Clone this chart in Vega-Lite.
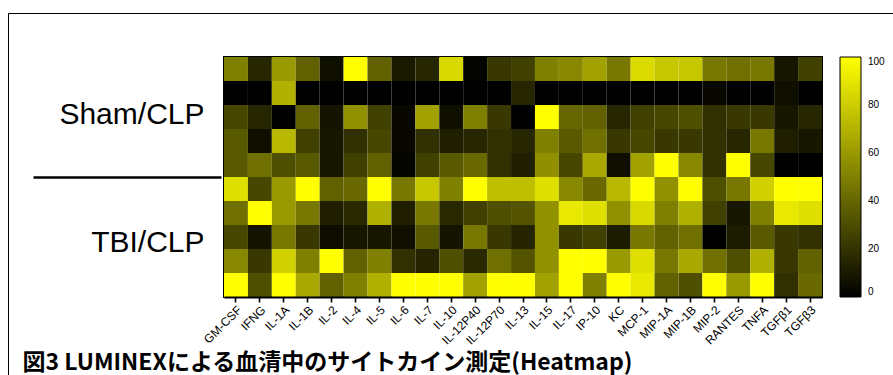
{
  "$schema": "https://vega.github.io/schema/vega-lite/v6.json",
  "width": 598,
  "height": 240,
  "autosize": {"type": "none"},
  "padding": {"left": 224, "top": 57, "right": 71, "bottom": 78},
  "background": "white",
  "config": {"view": {"stroke": "black", "strokeWidth": 2}, "font": "Liberation Sans"},
  "datasets": {
    "cells": [
      {"r":1,"c":"GM-CSF","v":50},{"r":1,"c":"IFNG","v":15},{"r":1,"c":"IL-1A","v":60},{"r":1,"c":"IL-1B","v":38},{"r":1,"c":"IL-2","v":6},{"r":1,"c":"IL-4","v":100},{"r":1,"c":"IL-5","v":38},{"r":1,"c":"IL-6","v":10},{"r":1,"c":"IL-7","v":15},{"r":1,"c":"IL-10","v":85},{"r":1,"c":"IL-12P40","v":2},{"r":1,"c":"IL-12P70","v":22},{"r":1,"c":"IL-13","v":25},{"r":1,"c":"IL-15","v":50},{"r":1,"c":"IL-17","v":53},{"r":1,"c":"IP-10","v":63},{"r":1,"c":"KC","v":47},{"r":1,"c":"MCP-1","v":86},{"r":1,"c":"MIP-1A","v":78},{"r":1,"c":"MIP-1B","v":78},{"r":1,"c":"MIP-2","v":47},{"r":1,"c":"RANTES","v":44},{"r":1,"c":"TNFA","v":47},{"r":1,"c":"TGFβ1","v":9},{"r":1,"c":"TGFβ3","v":25},
      {"r":2,"c":"GM-CSF","v":0},{"r":2,"c":"IFNG","v":0},{"r":2,"c":"IL-1A","v":69},{"r":2,"c":"IL-1B","v":0},{"r":2,"c":"IL-2","v":0},{"r":2,"c":"IL-4","v":0},{"r":2,"c":"IL-5","v":0},{"r":2,"c":"IL-6","v":0},{"r":2,"c":"IL-7","v":0},{"r":2,"c":"IL-10","v":0},{"r":2,"c":"IL-12P40","v":0},{"r":2,"c":"IL-12P70","v":0},{"r":2,"c":"IL-13","v":15},{"r":2,"c":"IL-15","v":0},{"r":2,"c":"IL-17","v":0},{"r":2,"c":"IP-10","v":0},{"r":2,"c":"KC","v":0},{"r":2,"c":"MCP-1","v":0},{"r":2,"c":"MIP-1A","v":0},{"r":2,"c":"MIP-1B","v":0},{"r":2,"c":"MIP-2","v":3},{"r":2,"c":"RANTES","v":0},{"r":2,"c":"TNFA","v":0},{"r":2,"c":"TGFβ1","v":6},{"r":2,"c":"TGFβ3","v":0},
      {"r":3,"c":"GM-CSF","v":28},{"r":3,"c":"IFNG","v":15},{"r":3,"c":"IL-1A","v":0},{"r":3,"c":"IL-1B","v":38},{"r":3,"c":"IL-2","v":8},{"r":3,"c":"IL-4","v":57},{"r":3,"c":"IL-5","v":25},{"r":3,"c":"IL-6","v":3},{"r":3,"c":"IL-7","v":63},{"r":3,"c":"IL-10","v":6},{"r":3,"c":"IL-12P40","v":50},{"r":3,"c":"IL-12P70","v":22},{"r":3,"c":"IL-13","v":0},{"r":3,"c":"IL-15","v":100},{"r":3,"c":"IL-17","v":40},{"r":3,"c":"IP-10","v":38},{"r":3,"c":"KC","v":15},{"r":3,"c":"MCP-1","v":25},{"r":3,"c":"MIP-1A","v":28},{"r":3,"c":"MIP-1B","v":31},{"r":3,"c":"MIP-2","v":19},{"r":3,"c":"RANTES","v":22},{"r":3,"c":"TNFA","v":22},{"r":3,"c":"TGFβ1","v":9},{"r":3,"c":"TGFβ3","v":15},
      {"r":4,"c":"GM-CSF","v":35},{"r":4,"c":"IFNG","v":6},{"r":4,"c":"IL-1A","v":72},{"r":4,"c":"IL-1B","v":25},{"r":4,"c":"IL-2","v":9},{"r":4,"c":"IL-4","v":19},{"r":4,"c":"IL-5","v":28},{"r":4,"c":"IL-6","v":3},{"r":4,"c":"IL-7","v":19},{"r":4,"c":"IL-10","v":12},{"r":4,"c":"IL-12P40","v":15},{"r":4,"c":"IL-12P70","v":19},{"r":4,"c":"IL-13","v":15},{"r":4,"c":"IL-15","v":50},{"r":4,"c":"IL-17","v":35},{"r":4,"c":"IP-10","v":44},{"r":4,"c":"KC","v":22},{"r":4,"c":"MCP-1","v":28},{"r":4,"c":"MIP-1A","v":22},{"r":4,"c":"MIP-1B","v":22},{"r":4,"c":"MIP-2","v":19},{"r":4,"c":"RANTES","v":15},{"r":4,"c":"TNFA","v":47},{"r":4,"c":"TGFβ1","v":12},{"r":4,"c":"TGFβ3","v":9},
      {"r":5,"c":"GM-CSF","v":35},{"r":5,"c":"IFNG","v":44},{"r":5,"c":"IL-1A","v":31},{"r":5,"c":"IL-1B","v":35},{"r":5,"c":"IL-2","v":9},{"r":5,"c":"IL-4","v":25},{"r":5,"c":"IL-5","v":38},{"r":5,"c":"IL-6","v":2},{"r":5,"c":"IL-7","v":25},{"r":5,"c":"IL-10","v":35},{"r":5,"c":"IL-12P40","v":41},{"r":5,"c":"IL-12P70","v":19},{"r":5,"c":"IL-13","v":12},{"r":5,"c":"IL-15","v":56},{"r":5,"c":"IL-17","v":28},{"r":5,"c":"IP-10","v":66},{"r":5,"c":"KC","v":6},{"r":5,"c":"MCP-1","v":63},{"r":5,"c":"MIP-1A","v":100},{"r":5,"c":"MIP-1B","v":53},{"r":5,"c":"MIP-2","v":19},{"r":5,"c":"RANTES","v":100},{"r":5,"c":"TNFA","v":28},{"r":5,"c":"TGFβ1","v":0},{"r":5,"c":"TGFβ3","v":0},
      {"r":6,"c":"GM-CSF","v":88},{"r":6,"c":"IFNG","v":28},{"r":6,"c":"IL-1A","v":60},{"r":6,"c":"IL-1B","v":100},{"r":6,"c":"IL-2","v":38},{"r":6,"c":"IL-4","v":41},{"r":6,"c":"IL-5","v":100},{"r":6,"c":"IL-6","v":47},{"r":6,"c":"IL-7","v":78},{"r":6,"c":"IL-10","v":50},{"r":6,"c":"IL-12P40","v":100},{"r":6,"c":"IL-12P70","v":75},{"r":6,"c":"IL-13","v":75},{"r":6,"c":"IL-15","v":88},{"r":6,"c":"IL-17","v":53},{"r":6,"c":"IP-10","v":41},{"r":6,"c":"KC","v":72},{"r":6,"c":"MCP-1","v":100},{"r":6,"c":"MIP-1A","v":57},{"r":6,"c":"MIP-1B","v":100},{"r":6,"c":"MIP-2","v":31},{"r":6,"c":"RANTES","v":47},{"r":6,"c":"TNFA","v":82},{"r":6,"c":"TGFβ1","v":100},{"r":6,"c":"TGFβ3","v":100},
      {"r":7,"c":"GM-CSF","v":44},{"r":7,"c":"IFNG","v":100},{"r":7,"c":"IL-1A","v":60},{"r":7,"c":"IL-1B","v":47},{"r":7,"c":"IL-2","v":12},{"r":7,"c":"IL-4","v":16},{"r":7,"c":"IL-5","v":69},{"r":7,"c":"IL-6","v":12},{"r":7,"c":"IL-7","v":47},{"r":7,"c":"IL-10","v":16},{"r":7,"c":"IL-12P40","v":25},{"r":7,"c":"IL-12P70","v":31},{"r":7,"c":"IL-13","v":33},{"r":7,"c":"IL-15","v":57},{"r":7,"c":"IL-17","v":91},{"r":7,"c":"IP-10","v":88},{"r":7,"c":"KC","v":57},{"r":7,"c":"MCP-1","v":85},{"r":7,"c":"MIP-1A","v":50},{"r":7,"c":"MIP-1B","v":69},{"r":7,"c":"MIP-2","v":25},{"r":7,"c":"RANTES","v":9},{"r":7,"c":"TNFA","v":50},{"r":7,"c":"TGFβ1","v":91},{"r":7,"c":"TGFβ3","v":88},
      {"r":8,"c":"GM-CSF","v":28},{"r":8,"c":"IFNG","v":8},{"r":8,"c":"IL-1A","v":47},{"r":8,"c":"IL-1B","v":22},{"r":8,"c":"IL-2","v":5},{"r":8,"c":"IL-4","v":9},{"r":8,"c":"IL-5","v":9},{"r":8,"c":"IL-6","v":6},{"r":8,"c":"IL-7","v":35},{"r":8,"c":"IL-10","v":8},{"r":8,"c":"IL-12P40","v":47},{"r":8,"c":"IL-12P70","v":22},{"r":8,"c":"IL-13","v":14},{"r":8,"c":"IL-15","v":57},{"r":8,"c":"IL-17","v":22},{"r":8,"c":"IP-10","v":25},{"r":8,"c":"KC","v":11},{"r":8,"c":"MCP-1","v":47},{"r":8,"c":"MIP-1A","v":38},{"r":8,"c":"MIP-1B","v":44},{"r":8,"c":"MIP-2","v":0},{"r":8,"c":"RANTES","v":11},{"r":8,"c":"TNFA","v":35},{"r":8,"c":"TGFβ1","v":22},{"r":8,"c":"TGFβ3","v":19},
      {"r":9,"c":"GM-CSF","v":53},{"r":9,"c":"IFNG","v":22},{"r":9,"c":"IL-1A","v":82},{"r":9,"c":"IL-1B","v":50},{"r":9,"c":"IL-2","v":100},{"r":9,"c":"IL-4","v":38},{"r":9,"c":"IL-5","v":50},{"r":9,"c":"IL-6","v":19},{"r":9,"c":"IL-7","v":14},{"r":9,"c":"IL-10","v":31},{"r":9,"c":"IL-12P40","v":16},{"r":9,"c":"IL-12P70","v":44},{"r":9,"c":"IL-13","v":33},{"r":9,"c":"IL-15","v":57},{"r":9,"c":"IL-17","v":100},{"r":9,"c":"IP-10","v":100},{"r":9,"c":"KC","v":60},{"r":9,"c":"MCP-1","v":88},{"r":9,"c":"MIP-1A","v":47},{"r":9,"c":"MIP-1B","v":66},{"r":9,"c":"MIP-2","v":44},{"r":9,"c":"RANTES","v":31},{"r":9,"c":"TNFA","v":69},{"r":9,"c":"TGFβ1","v":22},{"r":9,"c":"TGFβ3","v":38},
      {"r":10,"c":"GM-CSF","v":100},{"r":10,"c":"IFNG","v":31},{"r":10,"c":"IL-1A","v":100},{"r":10,"c":"IL-1B","v":66},{"r":10,"c":"IL-2","v":38},{"r":10,"c":"IL-4","v":50},{"r":10,"c":"IL-5","v":69},{"r":10,"c":"IL-6","v":100},{"r":10,"c":"IL-7","v":100},{"r":10,"c":"IL-10","v":100},{"r":10,"c":"IL-12P40","v":63},{"r":10,"c":"IL-12P70","v":100},{"r":10,"c":"IL-13","v":100},{"r":10,"c":"IL-15","v":63},{"r":10,"c":"IL-17","v":100},{"r":10,"c":"IP-10","v":50},{"r":10,"c":"KC","v":100},{"r":10,"c":"MCP-1","v":91},{"r":10,"c":"MIP-1A","v":38},{"r":10,"c":"MIP-1B","v":31},{"r":10,"c":"MIP-2","v":100},{"r":10,"c":"RANTES","v":60},{"r":10,"c":"TNFA","v":100},{"r":10,"c":"TGFβ1","v":19},{"r":10,"c":"TGFβ3","v":41}
    ],
    "groups": [{"grp": "Sham/CLP"}, {"grp": "TBI/CLP"}]
  },
  "layer": [
    {
      "data": {"name": "cells"},
      "mark": {"type": "rect"},
      "encoding": {
        "x": {"field": "c", "type": "nominal",
          "sort": ["GM-CSF","IFNG","IL-1A","IL-1B","IL-2","IL-4","IL-5","IL-6","IL-7","IL-10","IL-12P40","IL-12P70","IL-13","IL-15","IL-17","IP-10","KC","MCP-1","MIP-1A","MIP-1B","MIP-2","RANTES","TNFA","TGFβ1","TGFβ3"],
          "scale": {"paddingInner": 0, "paddingOuter": 0},
          "axis": {"title": "図3 LUMINEXによる血清中のサイトカイン測定(Heatmap)", "titleX": -202, "titleY": 72, "titleAlign": "left", "titleAnchor": "start", "titleBaseline": "alphabetic", "titleAngle": 0, "titleFont": "Noto Sans CJK JP", "titleFontSize": 23, "titleFontWeight": "bold", "titleColor": "black",
            "labelAngle": -45, "labelFontSize": 12, "labelColor": "black", "tickColor": "black", "tickSize": 5, "tickWidth": 1.6, "domainColor": "black", "domainWidth": 2, "labelPadding": 2}},
        "y": {"field": "r", "type": "ordinal", "scale": {"paddingInner": 0, "paddingOuter": 0}, "axis": null},
        "color": {"field": "v", "type": "quantitative",
          "scale": {"domain": [0, 100], "range": ["#000000", "#ffff00"], "interpolate": "rgb"},
          "legend": {"orient": "none", "legendX": 616, "legendY": 0, "title": null, "direction": "vertical", "gradientLength": 240, "gradientThickness": 21, "gradientStrokeColor": "black", "gradientStrokeWidth": 1, "values": [0, 20, 40, 60, 80, 100], "labelFontSize": 10, "labelColor": "black", "labelOffset": 7, "labelBaseline": "middle", "padding": 0, "labelOverlap": false}}
      }
    },
    {
      "data": {"name": "groups"},
      "mark": {"type": "point", "opacity": 0},
      "encoding": {
        "y": {"field": "grp", "type": "nominal",
          "scale": {"type": "band", "paddingInner": 0, "paddingOuter": 0},
          "axis": {"title": null, "orient": "left", "domain": false, "offset": 3, "tickSize": 188, "tickWidth": 2.5,
            "tickColor": {"condition": {"test": "datum.value === 'TBI/CLP'", "value": "black"}, "value": "transparent"},
            "tickOffset": -60,
            "labelOffset": {"condition": {"test": "datum.value === 'TBI/CLP'", "value": 65}, "value": 57},
            "labelPadding": -171, "labelFontSize": 30, "labelColor": "black", "labelFont": "Liberation Sans", "labelLimit": 0}},
        "shape": {"field": "grp", "type": "nominal",
          "legend": {"orient": "none", "legendX": -216, "legendY": -44, "padding": 600, "strokeColor": "black", "title": null, "symbolOpacity": 0, "labelOpacity": 0, "labelExpr": "''"}}
      }
    }
  ],
  "resolve": {"scale": {"y": "independent"}}
}
